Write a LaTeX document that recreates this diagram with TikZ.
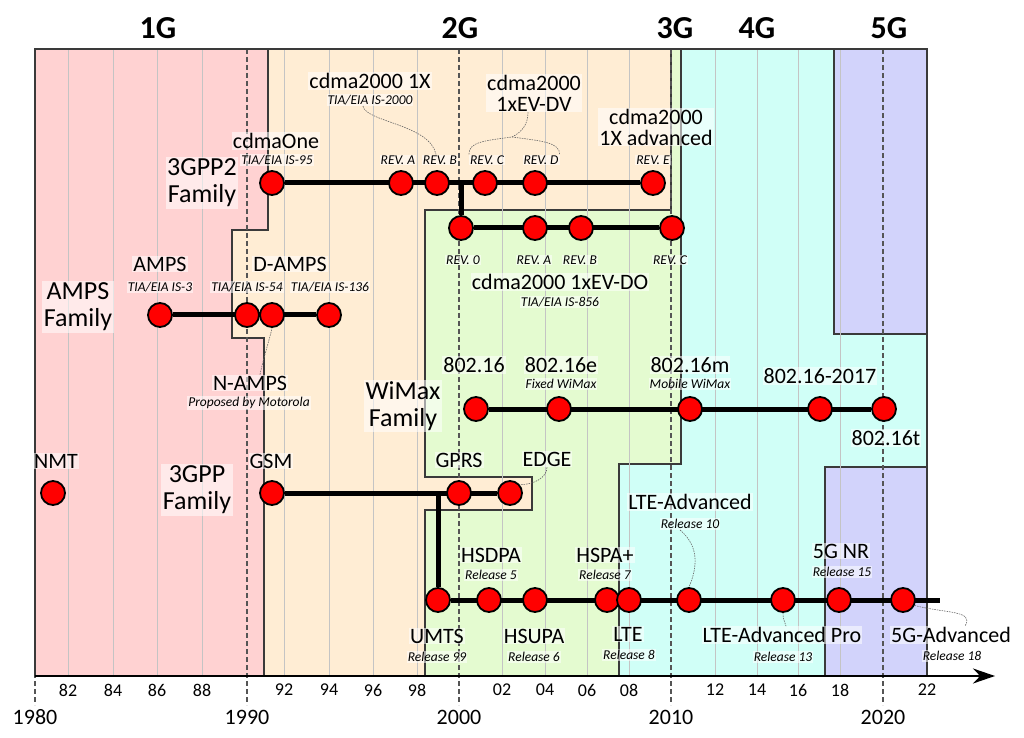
\documentclass[tikz,border=0pt]{standalone}
\usepackage{fontspec}
\setmainfont{Carlito}
\usetikzlibrary{arrows.meta,backgrounds}
\definecolor{cPink}{HTML}{FFD2D2}
\definecolor{cSand}{HTML}{FFEDD4}
\definecolor{cLeaf}{HTML}{E4FBD0}
\definecolor{cAqua}{HTML}{D0FFF7}
\definecolor{cLila}{HTML}{D2D3FB}
\definecolor{cEdge}{HTML}{3A3A3A}
\definecolor{cGrid}{HTML}{C4C4C4}
\definecolor{cDec}{HTML}{555555}
\definecolor{cNote}{HTML}{666666}

\begin{document}
\begin{tikzpicture}[x=1pt, y=1pt,
  zone/.style={fill=#1, draw=cEdge, line width=1.1pt},
  stdnode/.style={circle, fill=red, draw=black, line width=1.8pt, minimum size=24pt, inner sep=0pt},
  lbl/.style={font=\fontsize{22}{21}\selectfont, align=center, fill=white, fill opacity=.55,
     text opacity=1, inner sep=1pt},
  spec/.style={font=\fontsize{13.5}{13.5}\selectfont\itshape, fill=white, fill opacity=.55,
     text opacity=1, inner sep=1pt},
  famlbl/.style={font=\fontsize{26}{27}\selectfont, align=center, fill=white, fill opacity=.55,
     text opacity=1, inner sep=1.5pt},
  gen/.style={font=\fontsize{32}{32}\selectfont\bfseries},
  year/.style={font=\fontsize{18}{18}\selectfont},
  decade/.style={font=\fontsize{22}{22}\selectfont},
  decline/.style={draw=cDec, line width=1.3pt, dash pattern=on 5pt off 3pt},
  link/.style={line width=5pt},
  note/.style={draw=cNote, line width=.6pt, dash pattern=on 1.5pt off 1pt},
]
\useasboundingbox (0,0) rectangle (1024,737);

% =================== GENERATION ZONES ===================
\begin{scope}[on background layer]
\draw[zone=cSand] (268,688) -- (671,688) -- (671,527) -- (425,527) -- (425,260) -- (532,260)
  -- (532,227) -- (425,227) -- (425,61) -- (264,61) -- (264,399) -- (232,399) -- (232,507)
  -- (268,507) -- cycle;
\draw[zone=cPink] (35,688) -- (268,688) -- (268,507) -- (232,507) -- (232,399) -- (264,399)
  -- (264,61) -- (35,61) -- cycle;
\draw[zone=cLeaf] (425,527) -- (671,527) -- (671,688) -- (681,688) -- (681,273) -- (619,273)
  -- (619,61) -- (425,61) -- (425,227) -- (532,227) -- (532,260) -- (425,260) -- cycle;
\draw[zone=cAqua] (681,688) -- (834,688) -- (834,403) -- (927,403) -- (927,270) -- (825,270)
  -- (825,61) -- (619,61) -- (619,273) -- (681,273) -- cycle;
\draw[zone=cLila] (834,688) rectangle (927,403);
\draw[zone=cLila] (825,270) rectangle (927,61);

% grid and decades
\foreach \gx in {68,113,157,202,284,329,373,417,502,545,587,629,715,757,798,840}
  \draw[cGrid, line width=.6pt] (\gx,61) -- (\gx,688);
\foreach \dx in {35,247,459,671,883}
  \draw[decline] (\dx,688) -- (\dx,32);
\draw[cEdge, line width=1.1pt] (35,61) rectangle (927,688);

% time axis
\coordinate (origin) at (35,61);
\coordinate (axisend) at (995,61);
\draw[line width=2pt, -{Stealth[length=22pt, width=15pt]}] (origin) -- (axisend);
\end{scope}

\foreach \gx/\yr in {68/82,113/84,157/86,202/88,284/92,329/94,373/96,417/98,
  502/02,545/04,587/06,629/08,715/12,757/14,798/16,840/18,927/22}
  \node[year] (yr\yr) at (\gx,47) {\yr};
\foreach \dx/\dy in {35/1980,247/1990,459/2000,671/2010,883/2020}
  \node[decade] (dec\dy) at (\dx,20) {\dy};

\node[gen] (g1) at (158,709) {1G};
\node[gen] (g2) at (460,709) {2G};
\node[gen] (g3) at (675,709) {3G};
\node[gen] (g4) at (757,709) {4G};
\node[gen] (g5) at (889,709) {5G};

% =================== 3GPP2 FAMILY ===================
\node[famlbl] (fam2) at (202,554) {3GPP2\\Family};
\node[lbl] (lCdmaone) at (276,596) {cdmaOne};
\node[spec] (sCdmaone) at (277,577) {TIA/EIA IS-95};
\node[lbl] (l1x) at (370,656) {cdma2000 1X};
\node[spec] (s1x) at (370,637) {TIA/EIA IS-2000};
\node[lbl] (lDv) at (534,644) {cdma2000\\1xEV-DV};
\node[lbl] (lAdv) at (656,610) {cdma2000\\1X advanced};
\node[spec] (lRevA) at (398,577) {REV. A};
\node[spec] (lRevB) at (440,577) {REV. B};
\node[spec] (lRevC) at (487,577) {REV. C};
\node[spec] (lRevD) at (541,577) {REV. D};
\node[spec] (lRevE) at (653,577) {REV. E};
\node[spec] (lDo0) at (463,477) {REV. 0};
\node[spec] (lDoA) at (534,477) {REV. A};
\node[spec] (lDoB) at (580,477) {REV. B};
\node[spec] (lDoC) at (670,477) {REV. C};
\node[lbl] (lDo) at (560,455) {cdma2000 1xEV-DO};
\node[spec] (sDo) at (560,435) {TIA/EIA IS-856};

\node[stdnode] (cdmaone) at (272,554) {};
\node[stdnode] (revA) at (401,554) {};
\node[stdnode] (revB) at (437,554) {};
\node[stdnode] (revC) at (485,554) {};
\node[stdnode] (revD) at (535,554) {};
\node[stdnode] (revE) at (653,554) {};
\node[stdnode] (do0) at (461,509) {};
\node[stdnode] (doA) at (535,509) {};
\node[stdnode] (doB) at (581,509) {};
\node[stdnode] (doC) at (672,509) {};

\coordinate (dvfork) at (512,600);
\draw[note] ([xshift=-7pt]s1x.south) .. controls +(3,-16) and +(-6,30) .. ([xshift=-4pt]lRevB.north);
\draw[note] (lRevC.north west) .. controls +(0,12) and +(-30,-4) .. (dvfork)
  .. controls +(30,-4) and +(0,12) .. (lRevD.north east);
\draw[note] (dvfork) .. controls +(10,5) and +(0,-12) .. ([xshift=-6pt]lDv.south);

% =================== AMPS FAMILY ===================
\node[famlbl] (famAmps) at (78,430) {AMPS\\Family};
\node[lbl] (lAmps) at (160,473) {AMPS};
\node[spec] (sAmps) at (160,450) {TIA/EIA IS-3};
\node[lbl] (lDamps) at (290,473) {D-AMPS};
\node[spec] (sIs54) at (247,450) {TIA/EIA IS-54};
\node[spec] (sIs136) at (330,450) {TIA/EIA IS-136};
\node[lbl] (lNamps) at (250,354) {N-AMPS};
\node[spec] (sNamps) at (249,334) {Proposed by Motorola};

\node[stdnode] (amps) at (160,422) {};
\node[stdnode] (is54) at (247,422) {};
\node[stdnode] (namps) at (272,422) {};
\node[stdnode] (is136) at (329,422) {};

\draw[note] ([xshift=10pt]lNamps.north) .. controls +(3,15) and +(-2,-10) .. (namps.south);

% =================== WIMAX FAMILY ===================
\node[famlbl] (famWimax) at (403,331) {WiMax\\Family};
\node[lbl] (l16) at (474,372) {802.16};
\node[lbl] (l16e) at (561,372) {802.16e};
\node[spec] (s16e) at (561,353) {Fixed WiMax};
\node[lbl] (l16m) at (690,372) {802.16m};
\node[spec] (s16m) at (690,353) {Mobile WiMax};
\node[lbl] (l2017) at (820,361) {802.16-2017};
\node[lbl] (l16t) at (886,299) {802.16t};

\node[stdnode] (w16) at (476,328) {};
\node[stdnode] (w16e) at (559,328) {};
\node[stdnode] (w16m) at (690,328) {};
\node[stdnode] (w2017) at (820,328) {};
\node[stdnode] (w16t) at (884,328) {};

% =================== 3GPP FAMILY ===================
\node[famlbl] (fam3) at (197,247) {3GPP\\Family};
\node[lbl] (lNmt) at (56,276) {NMT};
\node[lbl] (lGsm) at (271,276) {GSM};
\node[lbl] (lGprs) at (459,277) {GPRS};
\node[lbl] (lEdge) at (547,278) {EDGE};

\node[lbl] (lUmts) at (437,101) {UMTS};
\node[spec] (sUmts) at (437,80) {Release 99};
\node[lbl] (lHsdpa) at (491,182) {HSDPA};
\node[spec] (sHsdpa) at (491,162) {Release 5};
\node[lbl] (lHsupa) at (534,101) {HSUPA};
\node[spec] (sHsupa) at (534,80) {Release 6};
\node[lbl] (lHspap) at (605,182) {HSPA+};
\node[spec] (sHspap) at (605,162) {Release 7};
\node[lbl] (lLte) at (628,103) {LTE};
\node[spec] (sLte) at (629,82) {Release 8};
\node[lbl] (lLtea) at (690,235) {LTE-Advanced};
\node[spec] (sLtea) at (690,213) {Release 10};
\node[lbl] (lLteap) at (782,102) {LTE-Advanced Pro};
\node[spec] (sLteap) at (783,80) {Release 13};
\node[lbl] (lNr) at (841,186) {5G NR};
\node[spec] (sNr) at (842,165) {Release 15};
\node[lbl] (lNra) at (951,102) {5G-Advanced};
\node[spec] (sNra) at (952,81) {Release 18};

\node[stdnode] (nmt) at (53,244) {};
\node[stdnode] (gsm) at (272,244) {};
\node[stdnode] (gprs) at (459,244) {};
\node[stdnode] (edge) at (510,244) {};
\node[stdnode] (umts) at (438,137) {};
\node[stdnode] (hsdpa) at (489,137) {};
\node[stdnode] (hsupa) at (535,137) {};
\node[stdnode] (hspap) at (607,137) {};
\node[stdnode] (lte) at (629,137) {};
\node[stdnode] (ltea) at (689,137) {};
\node[stdnode] (lteap) at (783,137) {};
\node[stdnode] (nr) at (839,137) {};
\node[stdnode] (nra) at (903,137) {};
\coordinate (tail) at (940,137);

\draw[note] (lEdge.south) .. controls +(0,-10) and +(14,0) .. (edge.40);
\draw[note] ([xshift=-10pt]sLtea.south) .. controls +(20,-17) and +(8,19) .. (ltea.north);
\draw[note] (lteap.south) .. controls +(0,-6) and +(-2,6) .. ([xshift=4pt]lLteap.north);
\draw[note] (nra.-25) .. controls +(30,-8) and +(10,16) .. ([xshift=14pt]lNra.north);

% release lines
\begin{scope}[on background layer]
\draw[link] (cdmaone) -- (revE);
\draw[link] (cdmaone -| do0) -- (do0) -- (doC);
\draw[link] (amps) -- (is136);
\draw[link] (w16) -- (w16t);
\draw[link] (gsm) -- (edge);
\draw[link] (gsm -| umts) -- (umts) -- (tail);
\end{scope}

\end{tikzpicture}
\end{document}
